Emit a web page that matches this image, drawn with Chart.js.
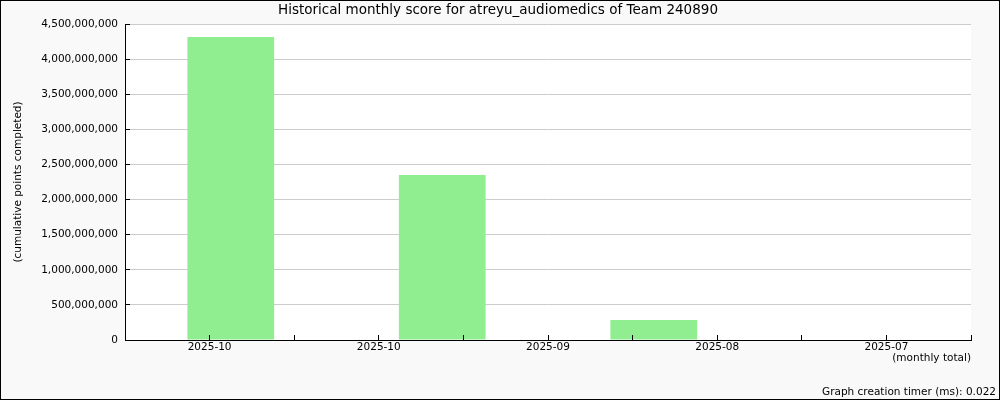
<!DOCTYPE html>
<html>
<head>
<meta charset="utf-8">
<script src="https://cdn.jsdelivr.net/npm/chart.js@4/dist/chart.umd.min.js"></script>
<style>
    html, body { margin: 0; padding: 0; background: #f9f9f9; }
    #wrap { position: relative; width: 1000px; height: 400px; }
    #wrap::after {
        content: ''; position: absolute; left: 0; top: 0; right: 0; bottom: 0;
        border: 1px solid #000; pointer-events: none;
    }
</style>
</head>
<body>
<div id="wrap"><canvas id="scoreChart" width="1000" height="400"></canvas></div>
<script>
// Monthly score data
const monthLabels = ['2025-10', '2025-10', '2025-09', '2025-08', '2025-07'];
const barSlots = ['m1', 'm2', 'm3', 'm4'];
const monthlyScore = [4315000000, 2350000000, 285000000, 0];
const yTicksMax = 4500000000;
const yTickStep = 500000000;

const FONT = 'DejaVu Sans';

// white plot background
const plotBackground = {
    id: 'plotBackground',
    beforeDraw(chart) {
        const a = chart.chartArea;
        const ctx = chart.ctx;
        ctx.save();
        ctx.fillStyle = '#ffffff';
        ctx.fillRect(a.left, a.top, a.right - a.left, a.bottom - a.top);
        ctx.restore();
    }
};

document.addEventListener('DOMContentLoaded', function() {
    const ctx = document.getElementById('scoreChart');
    new Chart(ctx, {
        type: 'bar',
        data: {
            labels: barSlots,
            datasets: [{
                label: 'monthly total',
                data: monthlyScore,
                xAxisID: 'xb',
                yAxisID: 'y',
                backgroundColor: '#90ee90',
                borderWidth: 0,
                categoryPercentage: 1,
                barPercentage: 0.41
            }]
        },
        options: {
            responsive: false,
            animation: false,
            layout: { padding: { left: 0, right: 4, top: 0, bottom: 0 } },
            plugins: {
                legend: { display: false },
                tooltip: { enabled: false },
                title: {
                    display: true,
                    text: 'Historical monthly score for atreyu_audiomedics of Team 240890',
                    color: '#000',
                    font: { family: FONT, size: 13.5, weight: 'normal' },
                    padding: { top: 2, bottom: 5.8 }
                },
                subtitle: {
                    display: true,
                    position: 'bottom',
                    align: 'end',
                    text: 'Graph creation timer (ms): 0.022',
                    color: '#000',
                    font: { family: FONT, size: 10.5, weight: 'normal' },
                    padding: { top: 21.6, bottom: 1 }
                }
            },
            scales: {
                x: {
                    type: 'linear',
                    position: 'bottom',
                    offset: false,
                    min: 0,
                    max: monthLabels.length * 2,
                    grid: {
                        z: 1,
                        offset: false,
                        drawOnChartArea: false,
                        drawTicks: true,
                        tickLength: -5,
                        tickColor: '#000'
                    },
                    border: { color: '#000', width: 1, z: 1 },
                    ticks: {
                        stepSize: 1,
                        autoSkip: false,
                        maxRotation: 0,
                        padding: 6,
                        color: '#000',
                        font: { family: FONT, size: 10.5 },
                        callback: function(value) {
                            return value % 2 === 1 ? monthLabels[(value - 1) / 2] : '';
                        }
                    },
                    title: {
                        display: true,
                        text: '(monthly total)',
                        align: 'end',
                        color: '#000',
                        font: { family: FONT, size: 10.5 },
                        padding: 0
                    },
                    afterFit: function(scale) { scale.height = 24.8; }
                },
                xb: {
                    type: 'category',
                    display: false,
                    offset: true
                },
                y: {
                    position: 'left',
                    min: 0,
                    max: yTicksMax,
                    grid: {
                        color: '#cccccc',
                        tickColor: '#000',
                        tickLength: -5
                    },
                    border: { color: '#000', width: 1 },
                    ticks: {
                        stepSize: yTickStep,
                        padding: 12,
                        color: '#000',
                        font: { family: FONT, size: 10.5 },
                        callback: function(value) {
                            return Number(value).toLocaleString('en-US');
                        }
                    },
                    title: {
                        display: true,
                        text: '(cumulative points completed)',
                        color: '#000',
                        font: { family: FONT, size: 10.5 },
                        padding: { top: 12, bottom: 0 }
                    },
                    afterFit: function(scale) { scale.width = 125; }
                },
                yr: {
                    type: 'linear',
                    position: 'right',
                    display: true,
                    grid: { display: false, drawTicks: false },
                    border: { display: false },
                    ticks: { display: false },
                    afterFit: function(scale) { scale.width = 25; }
                }
            }
        },
        plugins: [plotBackground]
    });
});
</script>
</body>
</html>
